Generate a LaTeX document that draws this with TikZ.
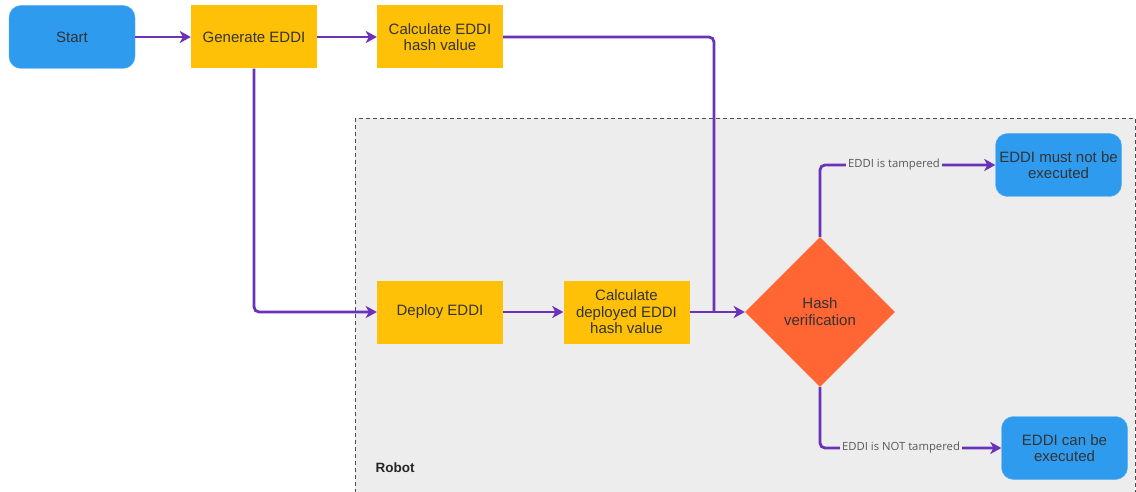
\documentclass[tikz,border=0pt]{standalone}
\usepackage{fontspec}
\setmainfont{Liberation Sans}
\newfontfamily\labelfont{Open Sans}
\usetikzlibrary{arrows.meta,shapes.geometric}
\definecolor{bluebox}{HTML}{2E9BEF}
\definecolor{yellowbox}{HTML}{FFC107}
\definecolor{orangebox}{HTML}{FF6633}
\definecolor{arrowc}{HTML}{6A32B8}
\definecolor{robotbg}{HTML}{EDEDED}
\definecolor{txt}{HTML}{333333}
\tikzset{
  x=1pt, y=-1pt,
  base/.style={minimum width=126pt, minimum height=63pt, inner sep=2pt, align=center,
    font=\fontsize{15}{16.5}\selectfont, text=txt},
  bluebx/.style={base, fill=bluebox, draw=bluebox!80!white, rounded corners=12pt},
  yellowbx/.style={base, fill=yellowbox},
  diam/.style={diamond, aspect=1, fill=orangebox, minimum width=150pt, minimum height=150pt,
    inner sep=0pt, align=center, font=\fontsize{15}{17}\selectfont, text=txt},
  conn/.style={draw=arrowc, line width=2.8pt, rounded corners=5pt,
    -{Stealth[length=11pt,width=12pt,inset=3pt]}},
  plainconn/.style={draw=arrowc, line width=2.8pt, rounded corners=5pt},
  elabel/.style={fill=robotbg, inner sep=2pt, font=\labelfont\fontsize{11.3}{13}\selectfont, text=black!65}
}
\begin{document}
\begin{tikzpicture}
\useasboundingbox (0,0) rectangle (1136,492);
\fill[white] (0,0) rectangle (1136,492);
% Robot region
\draw[fill=robotbg, draw=black!70, dash pattern=on 4pt off 3pt, line width=0.9pt] (355,118) rectangle (1135,497);
\node[anchor=west, font=\bfseries\fontsize{13.5}{15}\selectfont, text=black!85] (robot) at (372,468) {Robot};

\node[bluebx] (start) at (72,37) {Start};
\node[yellowbx] (gen) at (254,37) {Generate EDDI};
\node[yellowbx] (calc) at (440,37) {Calculate EDDI\\hash value};
\node[yellowbx] (deploy) at (440,312) {Deploy EDDI};
\node[yellowbx] (calcdep) at (626.5,312) {Calculate\\deployed EDDI\\hash value};
\node[diam] (hash) at (820,312) {Hash\\verification};
\node[bluebx] (notexec) at (1058.5,165) {EDDI must not be\\executed};
\node[bluebx] (exec) at (1064.5,448) {EDDI can be\\executed};

\coordinate (c1) at (714,37);
\coordinate (c2) at (714,312);
\coordinate (c3) at (254,312);
\coordinate (c4) at (820,165);
\coordinate (c5) at (820,448);

\draw[conn] (start) -- (gen);
\draw[conn] (gen) -- (calc);
\draw[plainconn] (calc.east) -- (c1) -- (c2);
\draw[conn] (gen.south) -- (c3) -- (deploy.west);
\draw[conn] (deploy) -- (calcdep);
\draw[conn] (calcdep.east) -- (hash.west);
\draw[conn] (hash.north) -- (c4) -- (notexec.west);
\draw[conn] (hash.south) -- (c5) -- (exec.west);
\node[elabel] (l1) at (894,165) {EDDI is tampered};
\node[elabel] (l2) at (901,448) {EDDI is NOT tampered};
\end{tikzpicture}
\end{document}
